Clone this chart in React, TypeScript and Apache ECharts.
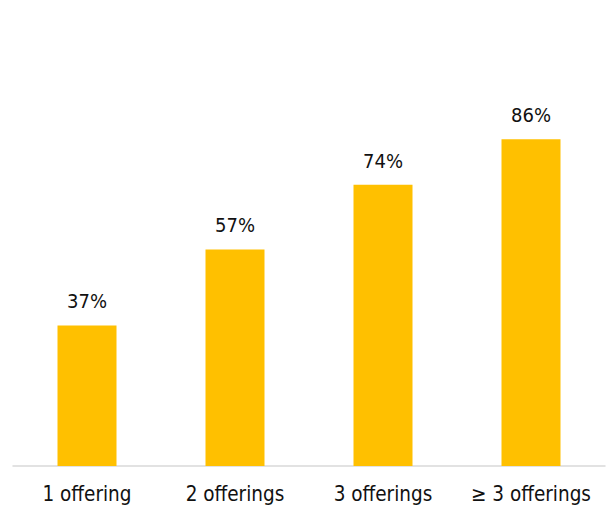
import React, { useEffect, useRef } from "react";
import * as echarts from "echarts";

const categories = ["1 offering", "2 offerings", "3 offerings", "≥ 3 offerings"];
const values = [37, 57, 74, 86];

export default function App() {
  const ref = useRef<HTMLDivElement>(null);
  useEffect(() => {
    if (!ref.current) return;
    const chart = echarts.init(ref.current, null, { renderer: "svg" });
    chart.setOption({
      animation: false,
      backgroundColor: "#ffffff",
      grid: { left: 13, right: 11, top: 86, bottom: 43 },
      xAxis: {
        type: "category",
        data: categories,
        axisLine: { lineStyle: { color: "#d9d9d9", width: 1.5 } },
        axisTick: { show: false },
        axisLabel: {
          interval: 0,
          color: "#111111",
          fontSize: 20.5,
          fontFamily: "'DejaVu Sans Condensed', 'DejaVu Sans', sans-serif",
          margin: 17,
        },
      },
      yAxis: {
        type: "value",
        min: 0,
        max: 100,
        show: false,
        splitLine: { show: false },
      },
      series: [
        {
          type: "bar",
          data: values,
          barWidth: 59,
          itemStyle: { color: "#FFC000" },
          label: {
            show: true,
            position: "top",
            distance: 14,
            formatter: "{c}%",
            color: "#111111",
            fontSize: 20,
            fontFamily: "'DejaVu Sans Condensed', 'DejaVu Sans', sans-serif",
          },
        },
      ],
    });
    return () => chart.dispose();
  }, []);
  return (
    <div
      ref={ref}
      style={{ position: "fixed", left: 0, top: 0, width: 616, height: 509 }}
    />
  );
}
